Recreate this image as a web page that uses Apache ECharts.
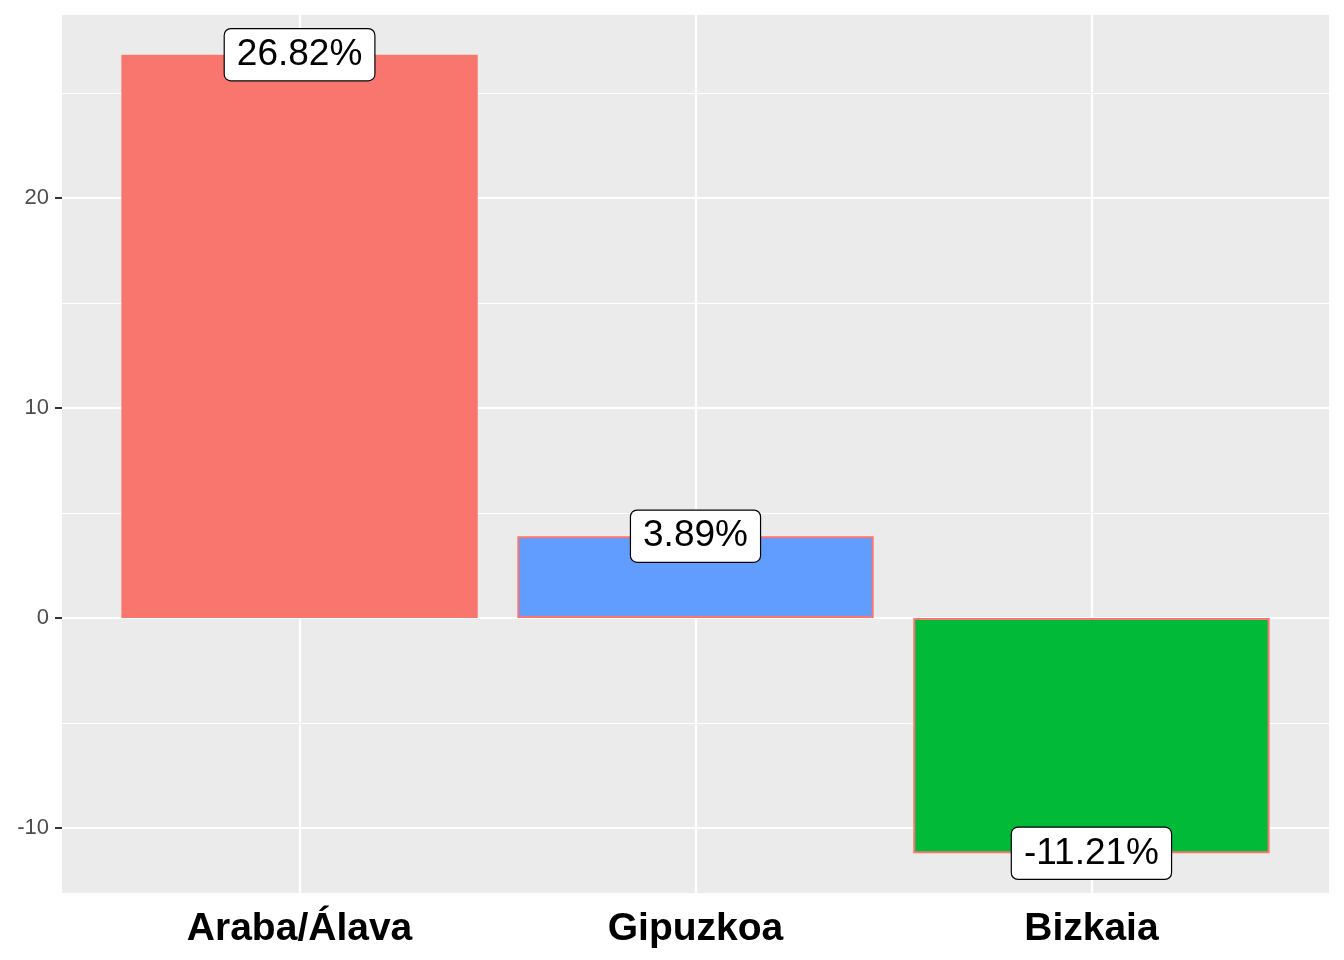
<!DOCTYPE html>
<html>
<head>
<meta charset="utf-8">
<script src="https://cdn.jsdelivr.net/npm/echarts@6/dist/echarts.min.js"></script>
<style>html,body{margin:0;padding:0;background:#fff}#c{width:1344px;height:960px}</style>
</head>
<body>
<div id="c"></div>
<script>
const categories = ['Araba/Álava', 'Gipuzkoa', 'Bizkaia'];
const values = [26.82, 3.89, -11.21];
const barColors = ['#F8766D', '#619CFF', '#00BA38'];
const yTicks = [-10, 0, 10, 20];
const yMinor = [-5, 5, 15, 25];
const xPos = categories.map((c, i) => i + 1);

const FONT = 'Liberation Sans, Arial, Helvetica, sans-serif';
const chart = echarts.init(document.getElementById('c'));
const gridLines = [];
yTicks.forEach(v => gridLines.push({ yAxis: v, lineStyle: { color: '#fff', width: 2.2, type: 'solid' } }));
yMinor.forEach(v => gridLines.push({ yAxis: v, lineStyle: { color: '#fff', width: 1.1, type: 'solid' } }));
xPos.forEach(v => gridLines.push({ xAxis: v, lineStyle: { color: '#fff', width: 2.2, type: 'solid' } }));

chart.setOption({
  animation: false,
  grid: { left: 62, right: 15, top: 15, bottom: 67, show: true, backgroundColor: '#EBEBEB', borderWidth: 0 },
  xAxis: {
    type: 'value', min: 0.4, max: 3.6,
    axisLine: { show: false },
    axisTick: { show: true, length: 7, customValues: xPos, lineStyle: { color: '#333', width: 2 } },
    axisLabel: { color: '#000', fontSize: 39, fontWeight: 'bold', fontFamily: FONT, margin: 17,
      customValues: xPos, formatter: v => categories[Math.round(v) - 1] || '' },
    splitLine: { show: false }
  },
  yAxis: {
    type: 'value', min: -13.1, max: 28.71,
    axisLine: { show: false },
    axisTick: { show: true, length: 7, customValues: yTicks, lineStyle: { color: '#333', width: 2 } },
    axisLabel: { color: '#4D4D4D', fontSize: 22, fontFamily: FONT, margin: 13, customValues: yTicks },
    splitLine: { show: false }
  },
  series: [
    {
      type: 'line', data: [], z: 1, silent: true,
      markLine: { z: 1, silent: true, symbol: 'none', label: { show: false }, animation: false, data: gridLines }
    },
    {
      type: 'bar', z: 5, barWidth: '90%',
      data: values.map((v, i) => ({ value: [xPos[i], v], itemStyle: { color: barColors[i] } })),
      itemStyle: { borderColor: '#F8766D', borderWidth: 2 }
    },
    {
      type: 'scatter', z: 10, symbolSize: 1, itemStyle: { color: 'rgba(0,0,0,0)', opacity: 1 },
      data: values.map((v, i) => [xPos[i], v]),
      label: {
        show: true, position: 'inside', opacity: 1,
        formatter: p => p.value[1].toFixed(2) + '%',
        color: '#000', fontSize: 37, fontFamily: FONT,
        backgroundColor: '#fff', borderColor: '#000', borderWidth: 1.2, borderRadius: 6,
        padding: [12, 12, 2, 12]
      }
    }
  ]
});
</script>
</body>
</html>
